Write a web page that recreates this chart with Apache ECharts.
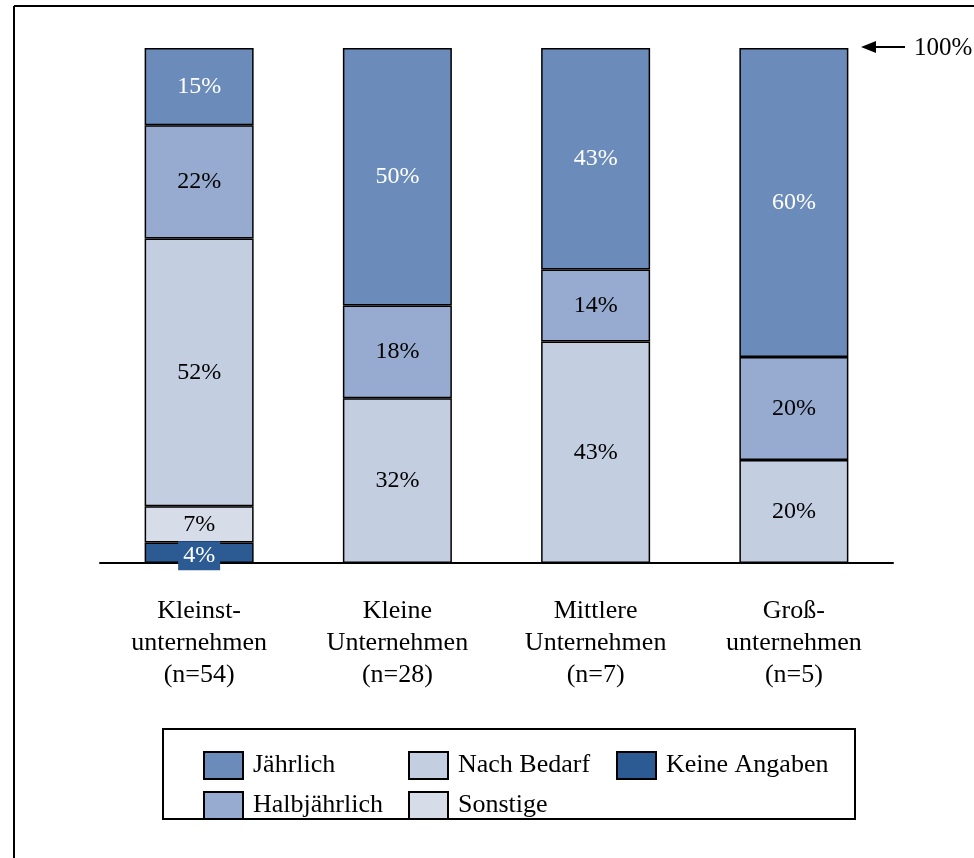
<!DOCTYPE html>
<html>
<head>
<meta charset="utf-8">
<script src="https://cdn.jsdelivr.net/npm/echarts@6/dist/echarts.min.js"></script>
<style>
  html, body { margin: 0; padding: 0; background: #fff; }
  #chart { width: 974px; height: 858px; }
</style>
</head>
<body>
<div id="chart"></div>
<script>
// categories (x axis)
const categories = [
  "Kleinst-\nunternehmen\n(n=54)",
  "Kleine\nUnternehmen\n(n=28)",
  "Mittlere\nUnternehmen\n(n=7)",
  "Groß-\nunternehmen\n(n=5)"
];

// shares in percent, bottom to top of each stack
const keineAngaben = [4, null, null, null];
const sonstige     = [7, null, null, null];
const nachBedarf   = [52, 32, 43, 20];
const halbjaehrlich = [22, 18, 14, 20];
const jaehrlich    = [15, 50, 43, 60];

const FONT = "'Liberation Serif', 'Times New Roman', serif";

const chart = echarts.init(document.getElementById("chart"));

function makeSeries(name, data, color, labelColor, extraLabel) {
  return {
    name: name,
    type: "bar",
    stack: "total",
    barWidth: 109,
    data: data,
    itemStyle: {
      color: color,
      borderColor: "#000",
      borderWidth: 1.5
    },
    label: Object.assign({
      show: true,
      position: "inside",
      formatter: "{c}%",
      color: labelColor,
      fontFamily: FONT,
      fontSize: 24
    }, extraLabel || {}),
    emphasis: { disabled: true },
    animation: false
  };
}

const series = [
  makeSeries("Keine Angaben", keineAngaben, "#2c5a93", "#fff", {
    backgroundColor: "#2c5a93",
    padding: [4, 5, 1, 5],
    offset: [0, 3]
  }),
  makeSeries("Sonstige", sonstige, "#d6dde9", "#000"),
  makeSeries("Nach Bedarf", nachBedarf, "#c3cee1", "#000"),
  makeSeries("Halbjährlich", halbjaehrlich, "#96abcf", "#000"),
  makeSeries("Jährlich", jaehrlich, "#6b8cba", "#fff")
];

function legendAt(name, left, top) {
  return {
    data: [name],
    left: left,
    top: top,
    padding: 0,
    itemWidth: 39,
    itemHeight: 27,
    icon: "rect",
    selectedMode: false,
    itemStyle: { borderColor: "#000", borderWidth: 2 },
    textStyle: { fontFamily: FONT, fontSize: 26, color: "#000", padding: [0, 0, 0, 5] }
  };
}

const options = {
  backgroundColor: "#fff",
  animation: false,
  grid: {
    left: 100,
    right: 81,
    top: 48,
    bottom: 295
  },
  xAxis: {
    type: "category",
    data: categories,
    axisLine: { show: true, lineStyle: { color: "#000", width: 2 } },
    axisTick: { show: false },
    axisLabel: {
      color: "#000",
      fontFamily: FONT,
      fontSize: 26,
      lineHeight: 32,
      margin: 32
    }
  },
  yAxis: {
    type: "value",
    min: 0,
    max: 100,
    show: false,
    splitLine: { show: false }
  },
  legend: [
    legendAt("Jährlich", 203, 751),
    legendAt("Nach Bedarf", 408, 751),
    legendAt("Keine Angaben", 616, 751),
    legendAt("Halbjährlich", 203, 791),
    legendAt("Sonstige", 408, 791)
  ],
  graphic: [
    // outer frame (left and top edges)
    { type: "line", shape: { x1: 14, y1: 6, x2: 14, y2: 858 }, style: { stroke: "#000", lineWidth: 2 } },
    { type: "line", shape: { x1: 14, y1: 6, x2: 974, y2: 6 }, style: { stroke: "#000", lineWidth: 2 } },
    // legend box
    { type: "rect", shape: { x: 163, y: 729, width: 692, height: 90 }, style: { fill: "none", stroke: "#000", lineWidth: 2 } },
    // 100% marker
    { type: "line", shape: { x1: 872, y1: 47, x2: 905, y2: 47 }, style: { stroke: "#000", lineWidth: 2 } },
    { type: "polygon", shape: { points: [[861, 47], [876, 41], [876, 53]] }, style: { fill: "#000" } },
    { type: "text", left: 914, top: 36, style: { text: "100%", fontFamily: FONT, fontSize: 25, fill: "#000" } }
  ],
  series: series
};

chart.setOption(options, true);
</script>
</body>
</html>
